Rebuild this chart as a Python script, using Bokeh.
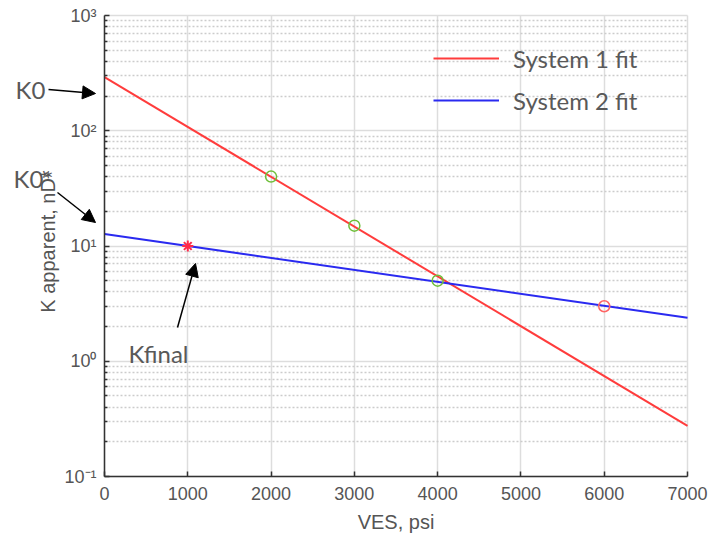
import math
from bokeh.plotting import figure
from bokeh.models import (Range1d, FixedTicker, Legend, LegendItem, Label, Arrow,
                          NormalHead, Grid, BoxAnnotation)
from bokeh.embed import file_html
from bokeh.resources import INLINE

# ---------------- data ----------------
ves_fit = [0, 7000]
k_fit_sys1 = [292, 0.275]          # System 1 exponential fit (straight on log axis)
k_fit_sys2 = [12.7, 2.38]          # System 2 exponential fit

ves_meas_sys1 = [2000, 3000, 4000]
k_meas_sys1 = [40, 15, 5]

ves_meas_sys2 = [6000]
k_meas_sys2 = [3.0]

ves_final = [1000]
k_final = [10]

x_ticks = [0, 1000, 2000, 3000, 4000, 5000, 6000, 7000]
y_ticks = [0.1, 1, 10, 100, 1000]
y_tick_labels = ["10\u207b\u00b9", "10\u2070", "10\u00b9", "10\u00b2", "10\u00b3"]
y_minor = [m * d for d in [0.1, 1, 10, 100] for m in range(2, 10)]

legend_labels = ["System 1 fit", "System 2 fit"]
x_title = "VES, psi"
y_title = "K apparent, nD*"

# ---------------- layout geometry ----------------
# The plot frame covers the whole canvas so that the side notes are not clipped;
# the axes are pinned at VES = 0 and K = 0.1.
W, H = 709, 535
AX_L, AX_R = 104, 687     # canvas x of VES 0 and 7000
AX_T, AX_B = 15, 476      # canvas y of K 1000 and 0.1
X0, X1 = 0, 7000
LY0, LY1 = -1, 3
sx = (X1 - X0) / (AX_R - AX_L)
sy = (LY1 - LY0) / (AX_B - AX_T)
x_range = Range1d(X0 - AX_L * sx, X1 + (W - AX_R) * sx)
y_range = Range1d(10 ** (LY0 - (H - AX_B) * sy), 10 ** (LY1 + AX_T * sy))

TXT = "#555555"
p = figure(width=W, height=H, x_range=x_range, y_range=y_range,
           y_axis_type="log", output_backend="svg", toolbar_location=None,
           min_border_left=0, min_border_right=0, min_border_top=0, min_border_bottom=0)
p.outline_line_color = None
p.background_fill_color = "white"

p.xaxis.ticker = FixedTicker(ticks=x_ticks)
p.xaxis.bounds = (x_ticks[0], x_ticks[-1])
p.xaxis.fixed_location = y_ticks[0]
p.yaxis.ticker = FixedTicker(ticks=y_ticks, minor_ticks=y_minor)
p.yaxis.major_label_overrides = {t: l for t, l in zip(y_ticks, y_tick_labels)}
p.yaxis.bounds = (y_ticks[0], y_ticks[-1])
p.yaxis.fixed_location = x_ticks[0]

for ax in (p.xaxis[0], p.yaxis[0]):
    ax.axis_line_color = "#333333"
    ax.axis_line_width = 1.5
    ax.major_tick_line_color = "#333333"
    ax.major_tick_line_width = 1.5
    ax.major_tick_in = 5
    ax.major_tick_out = 0
    ax.minor_tick_line_color = "#333333"
    ax.minor_tick_line_width = 1.5
    ax.minor_tick_in = 3
    ax.minor_tick_out = 0
    ax.major_label_text_font = "Liberation Sans"
    ax.major_label_text_font_size = "18px"
    ax.major_label_text_color = TXT

p.xaxis.major_label_standoff = 10
p.yaxis.major_label_standoff = 8

p.xgrid.grid_line_color = "#dddddd"
p.xgrid.grid_line_width = 1.5
p.ygrid.grid_line_color = "#dddddd"
p.ygrid.grid_line_width = 1.5
p.ygrid.minor_grid_line_color = "#cccccc"
p.ygrid.minor_grid_line_width = 1.5
p.ygrid.minor_grid_line_dash = "2 2"
if "cross_bounds" in Grid.properties():
    p.ygrid.cross_bounds = (x_ticks[0], x_ticks[-1])
    p.xgrid.cross_bounds = (y_ticks[0], y_ticks[-1])
else:
    for kw in (dict(right=x_ticks[0]), dict(left=x_ticks[-1]),
               dict(bottom=y_ticks[-1]), dict(top=y_ticks[0])):
        p.add_layout(BoxAnnotation(fill_color="white", fill_alpha=1, line_alpha=0,
                                   level="underlay", **kw))

# ---------------- glyphs ----------------
r1 = p.line(ves_fit, k_fit_sys1, line_color="#ff3c3c", line_width=2)
r2 = p.line(ves_fit, k_fit_sys2, line_color="#2a2af0", line_width=2)
p.scatter(ves_meas_sys1, k_meas_sys1, marker="circle", size=11, fill_color=None,
          line_color="#6fbf3a", line_width=1.5)
p.scatter(ves_meas_sys2, k_meas_sys2, marker="circle", size=11, fill_color=None,
          line_color="#ff6464", line_width=1.5)
p.scatter(ves_final, k_final, marker="asterisk", size=11, line_color="#ff2a4a", line_width=2)

legend = Legend(items=[LegendItem(label=legend_labels[0], renderers=[r1]),
                       LegendItem(label=legend_labels[1], renderers=[r2])],
                location=(423, H - 125), background_fill_alpha=0, border_line_alpha=0,
                glyph_width=66, glyph_height=30, label_height=30, spacing=12,
                padding=10, margin=0, label_standoff=14,
                label_text_font="Lato", label_text_font_size="24px",
                label_text_color="#595959")
p.add_layout(legend)

# ---------------- axis titles ----------------
p.add_layout(Label(x=(AX_L + AX_R) / 2, y=H - 521, x_units="screen", y_units="screen",
                   text=x_title, text_font="Liberation Sans", text_font_size="20px",
                   text_color=TXT, text_align="center", text_baseline="middle"))
p.add_layout(Label(x=47, y=H - 241, x_units="screen", y_units="screen",
                   text=y_title, angle=math.pi / 2, text_font="Liberation Sans",
                   text_font_size="20px", text_color=TXT, text_align="center",
                   text_baseline="middle"))

# ---------------- notes (screen units; canvas x, canvas y from top) ----------------
def add_label(text, cx, cy):
    p.add_layout(Label(x=cx, y=H - cy, x_units="screen", y_units="screen", text=text,
                       text_font="Lato", text_font_size="24px", text_color="#595959",
                       text_baseline="middle", text_align="left"))

def add_arrow(cx0, cy0, cx1, cy1):
    p.add_layout(Arrow(end=NormalHead(size=13, fill_color="black", line_color="black"),
                       x_start=cx0, y_start=H - cy0, x_end=cx1, y_end=H - cy1,
                       start_units="screen", end_units="screen",
                       line_color="black", line_width=1.5))

add_label("K0", 15, 89)
add_arrow(48, 89, 95, 93)
add_label("K0*", 13, 178)
add_arrow(57, 192, 95, 222)
add_label("Kfinal", 128, 353)
add_arrow(177, 327, 195, 263)

open("out.html", "w").write(file_html(p, INLINE))
